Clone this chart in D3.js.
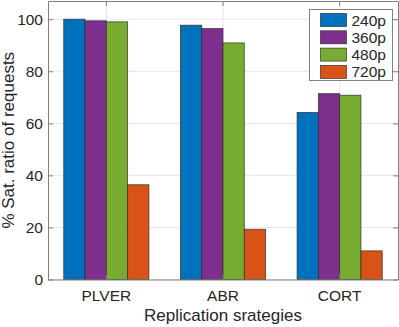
<!DOCTYPE html>
<html>
<head>
  <meta charset="utf-8">
  <title>Satisfaction ratio</title>
  <script src="https://d3js.org/d3.v7.min.js"></script>
  <style>
    body { margin: 0; background: #fff; }
    text { font-family: "Liberation Sans", Arial, sans-serif; fill: #262626; }
    .grid line { stroke: #e6e6e6; }
  </style>
</head>
<body>
  <svg id="chart"></svg>

  <script>
    // Data
    const categories = ["PLVER", "ABR", "CORT"];
    const series = ["240p", "360p", "480p", "720p"];
    const values240 = [100, 97.7, 64.2];
    const values360 = [99.4, 96.4, 71.4];
    const values480 = [99.0, 90.9, 70.8];
    const values720 = [36.4, 19.3, 11.0];
    const yTicks = [0, 20, 40, 60, 80, 100];
    const colors = ["#0072BD", "#7E2F8E", "#77AC30", "#D95319"];

    const allValues = [values240, values360, values480, values720];
    const data = categories.map((c, i) => ({
      cat: c,
      vals: series.map((s, j) => ({ key: s, value: allValues[j][i] }))
    }));

    const width = 399, height = 327;
    const margin = { top: 1, right: 1, bottom: 47.5, left: 48 };
    const chartWidth = width - margin.left - margin.right;
    const chartHeight = height - margin.top - margin.bottom;

    const svg = d3.select("#chart")
      .attr("width", width)
      .attr("height", height);

    const chart = svg.append("g")
      .attr("transform", `translate(${margin.left},${margin.top})`);

    // Scales
    const xScale = d3.scaleBand()
      .domain(categories)
      .range([0, chartWidth])
      .paddingInner(0.27)
      .paddingOuter(0.135);

    const xSub = d3.scaleBand()
      .domain(series)
      .range([0, xScale.bandwidth()]);

    const yScale = d3.scaleLinear()
      .domain([0, 107])
      .range([chartHeight, 0]);

    const color = d3.scaleOrdinal().domain(series).range(colors);

    // Grid
    chart.append("g").attr("class", "grid")
      .selectAll("line.h").data(yTicks).enter().append("line")
      .attr("x1", 0).attr("x2", chartWidth)
      .attr("y1", d => yScale(d)).attr("y2", d => yScale(d));
    chart.append("g").attr("class", "grid")
      .selectAll("line.v").data(categories).enter().append("line")
      .attr("x1", d => xScale(d) + xScale.bandwidth() / 2)
      .attr("x2", d => xScale(d) + xScale.bandwidth() / 2)
      .attr("y1", 0).attr("y2", chartHeight);

    // Bars
    const groups = chart.selectAll(".group")
      .data(data)
      .enter().append("g")
      .attr("class", "group")
      .attr("transform", d => `translate(${xScale(d.cat)},0)`);

    groups.selectAll("rect")
      .data(d => d.vals)
      .enter().append("rect")
      .attr("x", d => xSub(d.key))
      .attr("y", d => yScale(d.value))
      .attr("width", xSub.bandwidth())
      .attr("height", d => chartHeight - yScale(d.value))
      .attr("fill", d => color(d.key))
      .attr("stroke", "#262626")
      .attr("stroke-opacity", 0.8)
      .attr("stroke-width", 0.8);

    // Axes (ticks inside, box all round)
    const axisColor = "#808080";
    const yAxis = chart.append("g")
      .call(d3.axisLeft(yScale).tickValues(yTicks).tickSizeInner(-5).tickSizeOuter(0).tickPadding(5));
    const yAxisR = chart.append("g")
      .attr("transform", `translate(${chartWidth},0)`)
      .call(d3.axisRight(yScale).tickValues(yTicks).tickSizeInner(-5).tickSizeOuter(0).tickFormat(""));
    const xAxis = chart.append("g")
      .attr("transform", `translate(0,${chartHeight})`)
      .call(d3.axisBottom(xScale).tickSizeInner(-5).tickSizeOuter(0).tickPadding(10));
    const xAxisT = chart.append("g")
      .call(d3.axisTop(xScale).tickSizeInner(-5).tickSizeOuter(0).tickFormat(""));

    [yAxis, yAxisR, xAxis, xAxisT].forEach(a => {
      a.selectAll(".domain").attr("stroke", axisColor);
      a.selectAll(".tick line").attr("stroke", axisColor);
      a.selectAll("text")
        .attr("fill", "#262626")
        .style("font-size", "15.5px")
        .style("font-family", "'Liberation Sans', Arial, sans-serif");
    });

    // Axis labels
    svg.append("text")
      .attr("x", margin.left + chartWidth / 2)
      .attr("y", 321)
      .attr("text-anchor", "middle")
      .style("font-size", "17px")
      .text("Replication srategies");

    svg.append("text")
      .attr("transform", `translate(14,${margin.top + chartHeight / 2}) rotate(-90)`)
      .attr("text-anchor", "middle")
      .style("font-size", "17px")
      .text("% Sat. ratio of requests");

    // Legend
    const legend = svg.append("g").attr("transform", "translate(309.5,9.5)");
    legend.append("rect")
      .attr("width", 83).attr("height", 71)
      .attr("fill", "#fff")
      .attr("stroke", "#808080");

    const items = legend.selectAll(".item")
      .data(series)
      .enter().append("g")
      .attr("transform", (d, i) => `translate(11,${4 + i * 17.3})`);

    items.append("rect")
      .attr("width", 26).attr("height", 13)
      .attr("fill", d => color(d))
      .attr("stroke", "#262626")
      .attr("stroke-opacity", 0.8)
      .attr("stroke-width", 0.8);

    items.append("text")
      .attr("x", 31).attr("y", 12)
      .style("font-size", "15.5px")
      .text(d => d);
  </script>
</body>
</html>
